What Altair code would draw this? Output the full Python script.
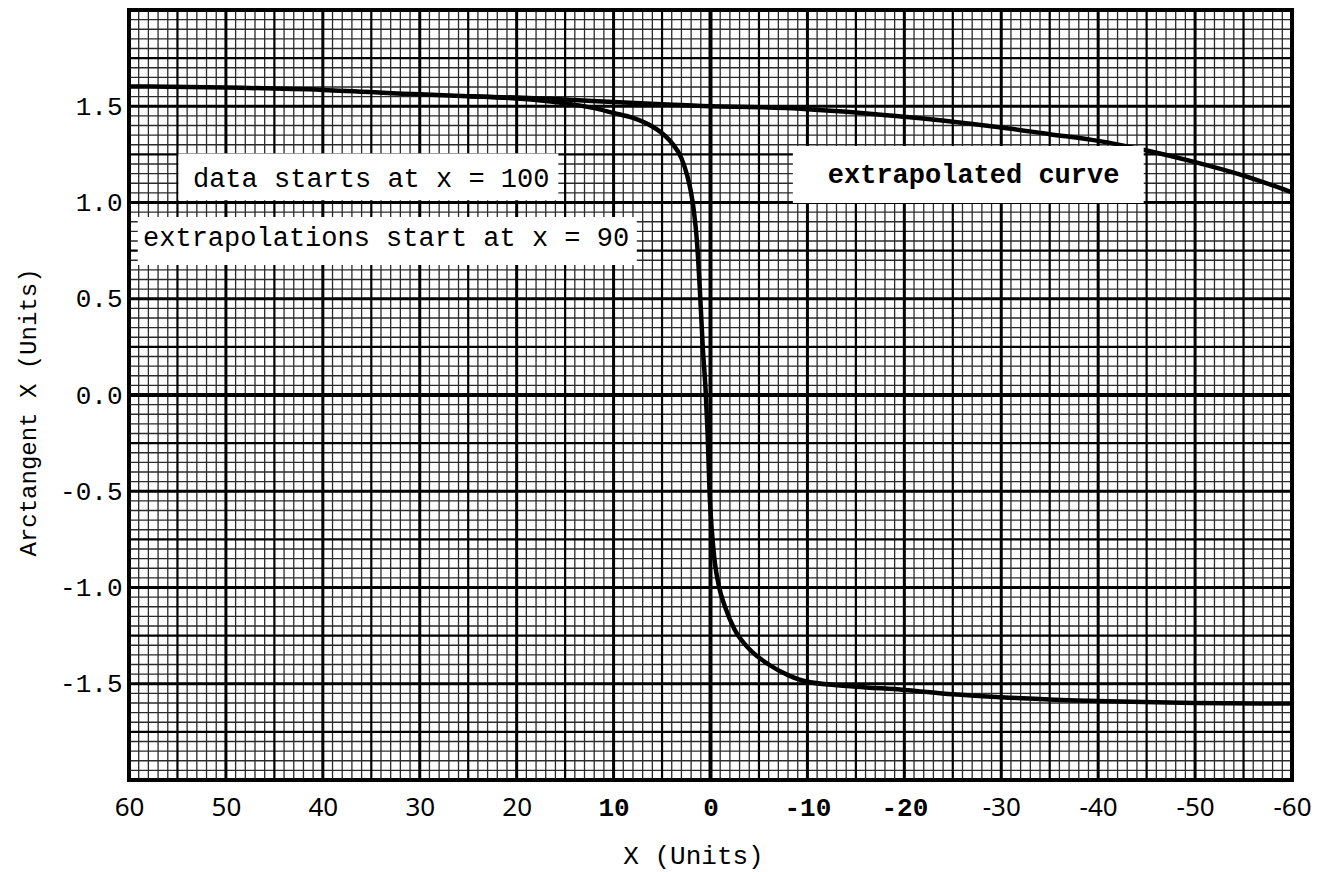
import altair as alt
import pandas as pd

# ---- traced curves (x in units, y = arctangent value) ----
arctan_x = [60, 50, 40, 30, 25, 20, 15, 12, 10, 8, 6, 5, 4, 3, 2.4, 2.0, 1.7, 1.4,
            1.1, 0.8, 0.5, 0.3, 0.1, -0.3, -0.9, -1.5, -2.5, -4, -6, -8, -10, -15,
            -20, -25, -30, -40, -50, -60]
arctan_y = [1.603, 1.597, 1.585, 1.562, 1.552, 1.54, 1.515, 1.49, 1.465, 1.44, 1.395,
            1.36, 1.31, 1.23, 1.14, 1.05, 0.95, 0.80, 0.55, 0.25, 0.02, -0.2, -0.5,
            -0.8, -1.0, -1.1, -1.22, -1.32, -1.40, -1.455, -1.49, -1.515, -1.532,
            -1.555, -1.57, -1.59, -1.60, -1.603]

extrap_x = [25, 20, 15, 10, 5, 0, -5, -10, -15, -20, -25, -30, -35, -40, -45, -50,
            -55, -60]
extrap_y = [1.552, 1.545, 1.535, 1.522, 1.51, 1.50, 1.495, 1.485, 1.468, 1.445, 1.42,
            1.39, 1.355, 1.32, 1.27, 1.21, 1.14, 1.053]

# ---- axes ----
x_ticks = [60, 50, 40, 30, 20, 10, 0, -10, -20, -30, -40, -50, -60]
y_ticks = [-1.5, -1.0, -0.5, 0.0, 0.5, 1.0, 1.5]

# ---- annotations: text, box corners and text anchor in data units ----
notes = pd.DataFrame({
    "label": ["data starts at x = 100", "extrapolations start at x = 90",
              "extrapolated curve"],
    "bx": [54.9, 59.1, -8.5], "bx2": [15.7, 7.6, -44.7],
    "by": [1.012, 0.675, 0.997], "by2": [1.255, 0.925, 1.294],
    "tx": [53.4, 58.55, -12.1], "ty": [1.08, 0.774, 1.101],
    "bold": [False, False, True],
})

W, H = 1163, 770
MONO = "Liberation Mono"
SANS = "Noto Sans"

x_scale = alt.Scale(domain=[-60, 60], reverse=True, nice=False, zero=False)
y_scale = alt.Scale(domain=[-2, 2], nice=False, zero=False)

SANS_TEST = "abs(datum.value) >= 30 || datum.value == 20"
x_axis = alt.Axis(
    values=x_ticks, ticks=False, domain=False, grid=False,
    labelExpr="datum.value < 0 ? '-' + format(-datum.value, 'd') : format(datum.value, 'd')",
    labelFont={"condition": {"test": SANS_TEST, "value": SANS}, "value": MONO},
    labelFontWeight={"condition": {"test": SANS_TEST, "value": "normal"},
                     "value": "bold"},
    labelFontSize=26, labelColor="black", labelPadding=14, labelFlush=False,
    title="X (Units)", titleFont=MONO, titleFontSize=26, titleFontWeight="normal",
    titleColor="black", titleX=564, titleY=83, titleBaseline="alphabetic",
)
y_axis = alt.Axis(
    values=y_ticks, ticks=False, domain=False, grid=False,
    labelExpr="datum.value < 0 ? '-' + format(-datum.value, '.1f') : format(datum.value, '.1f')",
    labelFont=MONO, labelFontSize=26, labelColor="black", labelPadding=7,
    labelFlush=False,
    title="Arctangent X (Units)", titleFont=MONO, titleFontSize=24,
    titleFontWeight="normal", titleColor="black", titleX=-94, titleY=402,
    titleBaseline="alphabetic", titleAngle=270,
)


def X(field):
    return alt.X(field, scale=x_scale, axis=x_axis)


def Y(field):
    return alt.Y(field, scale=y_scale, axis=y_axis)


# graph-paper rulings: every unit / 0.05, heavier every 5 / 0.25, heavy every 10 / 0.5
ux = list(range(-60, 61))
x_minor = [v for v in ux if v % 5 != 0]
x_mid = [v for v in ux if v % 5 == 0 and v % 10 != 0]
x_major = [v for v in ux if v % 10 == 0 and v != 0]
uy = list(range(-40, 41))
y_minor = [k * 0.05 for k in uy if k % 5 != 0]
y_mid = [k * 0.05 for k in uy if k % 5 == 0 and k % 10 != 0]
y_major = [k * 0.05 for k in uy if k % 10 == 0 and k != 0]


def vrules(vals, width, color="black"):
    return alt.Chart(pd.DataFrame({"v": vals})).mark_rule(
        strokeWidth=width, color=color
    ).encode(x=X("v:Q"))


def hrules(vals, width, color="black"):
    return alt.Chart(pd.DataFrame({"v": vals})).mark_rule(
        strokeWidth=width, color=color
    ).encode(y=Y("v:Q"))


grid = [
    vrules(x_minor, 1.3, "#2a2a2a"), hrules(y_minor, 1.3, "#2a2a2a"),
    vrules(x_mid, 2.2), hrules(y_mid, 2.2),
    vrules(x_major, 3), hrules(y_major, 3),
    vrules([0], 4), hrules([0], 4),
]

curves = pd.concat([
    pd.DataFrame({"x": arctan_x, "y": arctan_y, "curve": "arctangent",
                  "i": range(len(arctan_x))}),
    pd.DataFrame({"x": extrap_x, "y": extrap_y, "curve": "extrapolated",
                  "i": range(len(extrap_x))}),
])

lines = alt.Chart(curves).mark_line(
    color="black", strokeWidth=4.5, interpolate="monotone"
).encode(
    x=X("x:Q"),
    y=Y("y:Q"),
    detail="curve:N",
    order="i:Q",
)

boxes = alt.Chart(notes).mark_rect(color="white").encode(
    x=X("bx:Q"), x2="bx2:Q",
    y=Y("by:Q"), y2="by2:Q",
)


def note_text(bold):
    return alt.Chart(notes).transform_filter(
        "datum.bold" if bold else "!datum.bold"
    ).mark_text(
        font=MONO, fontSize=27, align="left", baseline="alphabetic", color="black",
        fontWeight="bold" if bold else "normal",
    ).encode(
        x=X("tx:Q"),
        y=Y("ty:Q"),
        text="label:N",
    )


chart = alt.layer(*grid, lines, boxes, note_text(False), note_text(True)).properties(
    width=W, height=H,
    padding={"left": 129, "top": 10, "right": 27, "bottom": 92},
    autosize=alt.AutoSizeParams(type="none"),
    background="white",
).configure_view(stroke="black", strokeWidth=4)

chart.save("out.html", embed_options={"renderer": "svg", "actions": False})
